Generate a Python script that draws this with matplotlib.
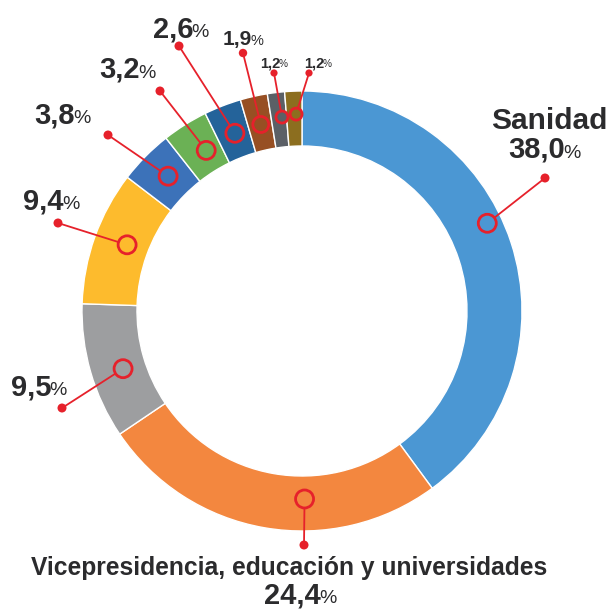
"""
Donut chart: share of spending by department.
"""
import matplotlib
matplotlib.use('Agg')
import numpy as np
import matplotlib.pyplot as plt
from matplotlib.patches import Circle

plt.rcParams['font.family'] = ['Liberation Sans', 'DejaVu Sans']

# data
names = ['Sanidad', 'Vicepresidencia, educación y universidades',
         '', '', '', '', '', '', '', '']
values = [38.0, 24.4, 9.5, 9.4, 3.8, 3.2, 2.6, 1.9, 1.2, 1.2]
colors = ['#4B97D3', '#F3873F', '#9D9EA0', '#FDBB2D', '#3C72B9',
          '#6BB155', '#24639A', '#974F23', '#5B6066', '#8C6E1F']

# layout (pixel coords, y from top)
W, H = 612, 609
CX, CY, R_OUT, RING = 302, 311, 220, 55
RED = '#E6212B'
INK = '#2B2B2D'
# where the ring marker sits inside each wedge: (fraction along wedge, radius)
anchors = [(0.45, 205), (0.385, 188), (0.45, 188), (0.53, 187), (0.54, 190),
           (0.61, 187), (0.55, 190), (0.53, 191), (0.70, 195), (0.62, 197)]
marker_r = [9, 9, 9, 9, 9, 9, 9, 8, 6, 6]
dot_r = [4.5, 4.5, 4.5, 4.5, 4.5, 4.5, 4.5, 4.2, 3.6, 3.6]
dots = [(545, 178), (304, 545), (62, 408), (58, 223), (108, 135),
        (160, 91), (179, 46), (243, 53), (274, 73), (309, 73)]
# number label: (x where number ends, baseline y, number size, % size)
pct_pos = [(565, 158, 21, 14), (321, 603, 21, 14), (51, 395, 21, 14),
           (64, 209, 21, 14), (75, 123, 21, 14), (140, 78, 21, 14),
           (193, 37, 21, 14), (252, 45, 15, 10.5), (280, 67, 10.5, 7.3),
           (324, 67, 10.5, 7.3)]
name_pos = [(549, 129, 21.5), (289, 575, 17.7)]


def P(x, y):
    return x, H - y


fig = plt.figure(figsize=(W / 100, H / 100), dpi=100)
ax = fig.add_axes([0, 0, 1, 1])

wedges, _ = ax.pie(values, colors=colors, startangle=90, counterclock=False,
                   center=P(CX, CY), radius=R_OUT,
                   wedgeprops=dict(width=RING, edgecolor='white', linewidth=1))

for i, w in enumerate(wedges):
    frac, r = anchors[i]
    ang = np.deg2rad(w.theta2 - frac * (w.theta2 - w.theta1))
    mx = CX + r * np.cos(ang)
    my = H - CY + r * np.sin(ang)
    dx, dy = P(*dots[i])
    ax.plot([dx, mx], [dy, my], color=RED, lw=1.3, zorder=3)
    ax.add_patch(Circle((mx, my), marker_r[i], facecolor=colors[i],
                        edgecolor=RED, lw=2.0, zorder=4))
    ax.add_patch(Circle((dx, dy), dot_r[i], facecolor=RED,
                        edgecolor='none', zorder=4))

    xs, yb, s_num, s_pct = pct_pos[i]
    num = f'{values[i]:.1f}'.replace('.', ',')
    ax.text(xs, H - yb, num, ha='right', va='baseline', fontsize=s_num,
            fontweight='bold', color=INK)
    ax.text(xs - 1.5, H - yb, '%', ha='left', va='baseline', fontsize=s_pct,
            color=INK)

for i, (x, y, s) in enumerate(name_pos):
    ax.text(x, H - y, names[i], ha='center', va='baseline', fontsize=s,
            fontweight='bold', color=INK)

ax.set_xlim(0, W)
ax.set_ylim(0, H)
ax.set_aspect('equal')
ax.axis('off')

fig.savefig('out.png', dpi=100, facecolor='white')
